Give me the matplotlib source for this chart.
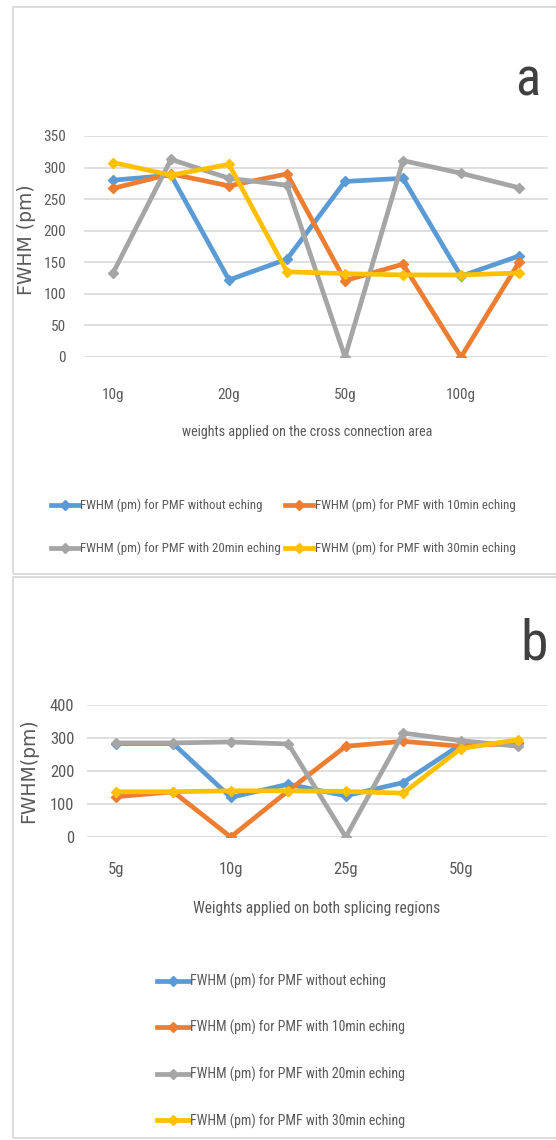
import matplotlib
matplotlib.use("Agg")
import matplotlib.pyplot as plt
from matplotlib import font_manager
from matplotlib.font_manager import FontProperties
from matplotlib.patches import Rectangle

# panel a: weights on the cross connection area
a_cats = ['10g', '', '20g', '', '50g', '', '100g', '']
a_blue = [280, 288, 122, 155, 278, 283, 128, 160]
a_orange = [267, 290, 271, 290, 121, 147, 0, 150]
a_gray = [133, 313, 283, 272, 0, 311, 291, 268]
a_yellow = [308, 288, 305, 135, 132, 130, 130, 133]
a_yticks = [0, 50, 100, 150, 200, 250, 300, 350]

# panel b: weights on both splicing regions
b_cats = ['5g', '', '10g', '', '25g', '', '50g', '']
b_blue = [283, 283, 120, 160, 125, 165, 280, 285]
b_orange = [122, 137, 0, 140, 275, 290, 275, 285]
b_gray = [285, 285, 288, 282, 0, 315, 292, 275]
b_yellow = [137, 137, 140, 140, 138, 133, 268, 295]
b_yticks = [0, 100, 200, 300, 400]

names = ['FWHM (pm) for PMF without eching',
         'FWHM (pm) for PMF with 10min eching',
         'FWHM (pm) for PMF with 20min eching',
         'FWHM (pm) for PMF with 30min eching']
colors = ['#5B9BD5', '#ED7D31', '#A5A5A5', '#FFC000']


# look for a narrow/condensed regular face, the chart text is very condensed
def find_narrow():
    cands = []
    for f in font_manager.fontManager.ttflist:
        tag = (f.name + ' ' + f.fname).lower()
        cond = f.stretch in ('condensed', 'semi-condensed', 'extra-condensed', 'ultra-condensed') \
            or 'narrow' in tag or 'condensed' in tag
        if not cond or f.style != 'normal':
            continue
        if f.weight not in (400, 'normal', 'regular', 'book'):
            continue
        rank = 9
        for i, key in enumerate(['liberation', 'roboto', 'open', 'dejavu']):
            if key in tag:
                rank = i
                break
        cands.append((rank, f.fname))
    if cands:
        cands.sort()
        return cands[0][1]
    return None


nfile = find_narrow()
scale = 1.0 if nfile else 0.8


def nprop(size):
    if nfile:
        return FontProperties(fname=nfile, size=size)
    return FontProperties(family='DejaVu Sans', size=size * scale)


txt = '#595959'

W, H = 556, 1140
fig = plt.figure(figsize=(W / 100, H / 100), dpi=100)
fig.patch.set_facecolor('white')


def fx(px):
    return px / W


def fy(py):
    return 1 - py / H


# chart frames
fig.add_artist(Rectangle((fx(13), fy(574)), 1.0, (574 - 7) / H, transform=fig.transFigure,
                         fill=False, edgecolor='#D9D9D9', lw=1.3))
fig.add_artist(Rectangle((fx(13), fy(1138)), 1.0, (1138 - 577) / H, transform=fig.transFigure,
                         fill=False, edgecolor='#D9D9D9', lw=1.3))


def panel(rect, cats, series, yticks, ymax, tsize, xpad, ypad):
    ax = fig.add_axes(rect)
    x = list(range(len(cats)))
    for vals, c in zip(series, colors):
        ax.plot(x, vals, color=c, lw=3.4, marker='D', markersize=5, solid_joinstyle='round')
    ax.set_xlim(-0.5, len(cats) - 0.5)
    ax.set_ylim(0, ymax)
    ax.set_yticks(yticks)
    ax.set_xticks(x)
    ax.set_xticklabels(cats)
    ax.yaxis.grid(True, color='#D9D9D9', lw=1.2)
    ax.set_axisbelow(True)
    for s in ax.spines.values():
        s.set_visible(False)
    ax.tick_params(length=0, colors=txt)
    ax.tick_params(axis='x', pad=xpad)
    ax.tick_params(axis='y', pad=ypad)
    for lab in ax.get_xticklabels() + ax.get_yticklabels():
        lab.set_fontproperties(nprop(tsize))
    return ax


ax1 = panel([fx(84), fy(357), (548 - 84) / W, (357 - 136) / H], a_cats,
            [a_blue, a_orange, a_gray, a_yellow], a_yticks, 350, 11, 22, 13)
ax1.set_ylabel('FWHM (pm)', family='DejaVu Sans', fontsize=13.5, color=txt)
ax1.yaxis.set_label_coords((36 - 84) / 464, 0.53)
ax1.text((307 - 84) / 464, (357 - 432) / 221, 'weights applied on the cross connection area',
         transform=ax1.transAxes, ha='center', va='center', fontproperties=nprop(10.2), color=txt)

ax2 = panel([fx(87), fy(837), (547 - 87) / W, (837 - 705) / H], b_cats,
            [b_blue, b_orange, b_gray, b_yellow], b_yticks, 400, 12, 18, 9)
ax2.set_ylabel('FWHM(pm)', family='DejaVu Sans', fontsize=13.5, color=txt)
ax2.yaxis.set_label_coords((38 - 87) / 460, 0.5)
ax2.text((317 - 87) / 460, (837 - 909) / 132, 'Weights applied on both splicing regions',
         transform=ax2.transAxes, ha='center', va='center', fontproperties=nprop(11.2), color=txt)

# legend a fills column by column; reorder so rows read blue/orange then gray/yellow
l1 = ax1.get_lines()
order = [0, 2, 1, 3]
leg1 = fig.legend([l1[i] for i in order], [names[i] for i in order], ncol=2, loc='center',
                  bbox_to_anchor=(fx(283), fy(527)), frameon=False, handlelength=2.2,
                  handletextpad=0.1, columnspacing=0.3, labelspacing=2.3, prop=nprop(9.3))
leg2 = fig.legend(ax2.get_lines(), names, ncol=1, loc='center', bbox_to_anchor=(fx(281), fy(1051)),
                  frameon=False, handlelength=2.3, handletextpad=0.1,
                  labelspacing=2.25, prop=nprop(10))
for leg in (leg1, leg2):
    for t in leg.get_texts():
        t.set_color(txt)

fig.text(fx(528), fy(95), 'a', ha='center', va='baseline', fontproperties=nprop(38), color='#404040')
fig.text(fx(534), fy(660), 'b', ha='center', va='baseline', fontproperties=nprop(40), color='#404040')

fig.savefig('out.png', dpi=100)
